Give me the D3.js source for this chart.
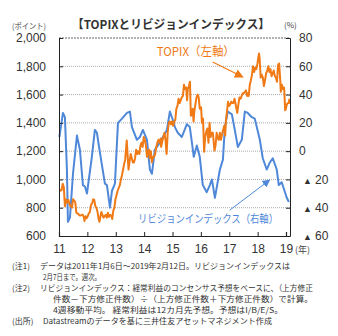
<!DOCTYPE html>
<html>
<head>
<meta charset="utf-8">
<script src="https://cdn.jsdelivr.net/npm/d3@7"></script>
<style>
  body { margin: 0; background: #fff; }
  svg { display: block; font-family: "Noto Sans CJK JP", "Liberation Sans", sans-serif; }
</style>
</head>
<body>
<script>
// Screen dimensions.
const WIDTH = 338;
const HEIGHT = 336;

// TOPIX (left axis), roughly every two weeks.
const topix = [
  ["2011-01-07", 930], ["2011-01-21", 920], ["2011-02-04", 925], ["2011-02-18", 970],
  ["2011-03-04", 945], ["2011-03-18", 810], ["2011-04-01", 860], ["2011-04-15", 835],
  ["2011-05-02", 855], ["2011-05-20", 820], ["2011-06-03", 810], ["2011-06-17", 800],
  ["2011-07-01", 860], ["2011-07-15", 850], ["2011-07-29", 840], ["2011-08-12", 765],
  ["2011-08-26", 760], ["2011-09-09", 755], ["2011-09-22", 745], ["2011-10-07", 745],
  ["2011-10-21", 750], ["2011-11-04", 750], ["2011-11-18", 730], ["2011-11-25", 706],
  ["2011-12-09", 740], ["2011-12-22", 725], ["2012-01-06", 740], ["2012-01-20", 760],
  ["2012-02-03", 770], ["2012-02-17", 820], ["2012-03-02", 830], ["2012-03-16", 860],
  ["2012-03-30", 855], ["2012-04-13", 810], ["2012-04-27", 800], ["2012-05-11", 770],
  ["2012-05-25", 720], ["2012-06-04", 700], ["2012-06-15", 730], ["2012-06-29", 770],
  ["2012-07-13", 750], ["2012-07-27", 730], ["2012-08-10", 740], ["2012-08-24", 750],
  ["2012-09-07", 730], ["2012-09-21", 765], ["2012-10-05", 735], ["2012-10-19", 750],
  ["2012-11-02", 745], ["2012-11-16", 720], ["2012-11-30", 780], ["2012-12-14", 800],
  ["2012-12-28", 860], ["2013-01-11", 890], ["2013-01-25", 920], ["2013-02-08", 940],
  ["2013-02-22", 960], ["2013-03-08", 1000], ["2013-03-22", 1030], ["2013-04-05", 1070],
  ["2013-04-19", 1110], ["2013-05-02", 1140], ["2013-05-22", 1276], ["2013-06-07", 1130],
  ["2013-06-14", 1070], ["2013-06-28", 1130], ["2013-07-12", 1180], ["2013-07-26", 1150],
  ["2013-08-09", 1120], ["2013-08-23", 1120], ["2013-09-06", 1150], ["2013-09-20", 1210],
  ["2013-10-04", 1180], ["2013-10-18", 1200], ["2013-11-01", 1180], ["2013-11-15", 1240],
  ["2013-11-29", 1260], ["2013-12-13", 1230], ["2013-12-27", 1300], ["2014-01-10", 1280],
  ["2014-01-24", 1240], ["2014-02-07", 1160], ["2014-02-21", 1200], ["2014-03-07", 1210],
  ["2014-03-14", 1150], ["2014-03-28", 1200], ["2014-04-11", 1121], ["2014-04-25", 1160],
  ["2014-05-09", 1160], ["2014-05-23", 1180], ["2014-06-06", 1230], ["2014-06-20", 1260],
  ["2014-07-04", 1280], ["2014-07-18", 1260], ["2014-08-01", 1290], ["2014-08-08", 1230],
  ["2014-08-22", 1270], ["2014-09-05", 1300], ["2014-09-19", 1330], ["2014-10-03", 1280],
  ["2014-10-17", 1180], ["2014-10-31", 1330], ["2014-11-14", 1400], ["2014-11-28", 1410],
  ["2014-12-12", 1390], ["2014-12-26", 1410], ["2015-01-09", 1380], ["2015-01-23", 1410],
  ["2015-02-06", 1420], ["2015-02-20", 1500], ["2015-03-06", 1520], ["2015-03-20", 1570],
  ["2015-04-03", 1540], ["2015-04-17", 1560], ["2015-05-01", 1580], ["2015-05-15", 1590],
  ["2015-05-29", 1670], ["2015-06-12", 1640], ["2015-06-26", 1650], ["2015-07-08", 1560],
  ["2015-07-17", 1640], ["2015-07-31", 1660], ["2015-08-14", 1690], ["2015-08-25", 1450],
  ["2015-09-04", 1460], ["2015-09-18", 1500], ["2015-09-29", 1410], ["2015-10-09", 1480],
  ["2015-10-23", 1530], ["2015-11-06", 1580], ["2015-11-20", 1600], ["2015-12-04", 1580],
  ["2015-12-18", 1500], ["2016-01-04", 1510], ["2016-01-15", 1400], ["2016-01-29", 1430],
  ["2016-02-12", 1196], ["2016-02-26", 1300], ["2016-03-11", 1340], ["2016-03-25", 1360],
  ["2016-04-08", 1260], ["2016-04-22", 1400], ["2016-05-06", 1300], ["2016-05-20", 1330],
  ["2016-06-03", 1330], ["2016-06-17", 1250], ["2016-06-24", 1204], ["2016-07-08", 1240],
  ["2016-07-22", 1330], ["2016-08-05", 1290], ["2016-08-19", 1280], ["2016-09-02", 1330],
  ["2016-09-16", 1280], ["2016-09-30", 1320], ["2016-10-14", 1350], ["2016-10-28", 1380],
  ["2016-11-09", 1310], ["2016-11-18", 1410], ["2016-12-02", 1480], ["2016-12-16", 1550],
  ["2016-12-30", 1520], ["2017-01-13", 1530], ["2017-01-27", 1550], ["2017-02-10", 1540],
  ["2017-02-24", 1540], ["2017-03-10", 1570], ["2017-03-24", 1530], ["2017-04-07", 1490],
  ["2017-04-14", 1470], ["2017-04-28", 1530], ["2017-05-12", 1580], ["2017-05-26", 1570],
  ["2017-06-09", 1590], ["2017-06-23", 1610], ["2017-07-07", 1610], ["2017-07-21", 1620],
  ["2017-08-04", 1630], ["2017-08-18", 1590], ["2017-09-01", 1610], ["2017-09-08", 1590],
  ["2017-09-22", 1670], ["2017-10-06", 1700], ["2017-10-20", 1740], ["2017-11-02", 1800],
  ["2017-11-10", 1790], ["2017-11-17", 1760], ["2017-12-01", 1790], ["2017-12-15", 1780],
  ["2017-12-29", 1817], ["2018-01-12", 1870], ["2018-01-19", 1890], ["2018-01-26", 1860],
  ["2018-02-09", 1720], ["2018-02-23", 1740], ["2018-03-09", 1720], ["2018-03-23", 1660],
  ["2018-04-06", 1700], ["2018-04-20", 1750], ["2018-05-04", 1770], ["2018-05-18", 1800],
  ["2018-06-01", 1760], ["2018-06-15", 1780], ["2018-06-29", 1730], ["2018-07-13", 1750],
  ["2018-07-27", 1770], ["2018-08-10", 1730], ["2018-08-24", 1720], ["2018-09-07", 1690],
  ["2018-09-21", 1810], ["2018-10-05", 1820], ["2018-10-19", 1700], ["2018-10-26", 1620],
  ["2018-11-09", 1670], ["2018-11-22", 1640], ["2018-12-07", 1650], ["2018-12-14", 1580],
  ["2018-12-21", 1490], ["2018-12-28", 1494], ["2019-01-11", 1530], ["2019-01-25", 1540],
  ["2019-02-08", 1540], ["2019-02-12", 1570]
];

// Revision index, 4-week moving average (right axis, %).
const revision = [
  ["2011-01-06", 10], ["2011-02-21", 27], ["2011-03-18", 24], ["2011-04-13", -13],
  ["2011-04-26", -50], ["2011-05-22", -47], ["2011-06-30", -16], ["2011-08-20", 11],
  ["2011-09-27", 1], ["2011-11-05", -24], ["2011-12-01", -25], ["2011-12-27", -30],
  ["2012-01-08", -25], ["2012-02-28", -4], ["2012-04-07", 15], ["2012-05-03", 13],
  ["2012-06-11", -1], ["2012-08-14", -23], ["2012-09-09", -24], ["2012-10-18", -40],
  ["2012-11-13", -28], ["2012-12-21", -23], ["2013-01-29", 20], ["2013-03-22", 23],
  ["2013-05-25", 27], ["2013-07-02", 28], ["2013-07-28", 17], ["2013-09-30", 8],
  ["2013-11-07", 10], ["2013-12-16", 15], ["2014-02-06", 8], ["2014-03-16", -13],
  ["2014-04-11", -16], ["2014-05-19", 1], ["2014-07-23", 6], ["2014-08-30", 10],
  ["2014-10-21", 15], ["2014-11-28", 28], ["2015-01-06", 22], ["2015-02-01", 17],
  ["2015-03-10", 13], ["2015-05-01", 10], ["2015-07-04", 19], ["2015-08-12", 17],
  ["2015-09-20", 1], ["2015-10-02", -4], ["2015-11-10", 4], ["2015-12-18", -4],
  ["2016-01-26", -24], ["2016-03-17", -29], ["2016-04-26", -24], ["2016-05-22", -20],
  ["2016-06-30", -33], ["2016-09-02", -13], ["2016-10-11", -6], ["2016-11-05", 17],
  ["2016-12-13", 28], ["2017-02-03", 26], ["2017-03-13", 15], ["2017-04-21", 3],
  ["2017-06-11", 8], ["2017-07-20", 28], ["2017-08-27", 27], ["2017-10-18", 24],
  ["2017-11-25", 23], ["2018-01-29", 8], ["2018-03-08", -5], ["2018-04-28", -13],
  ["2018-06-07", -8], ["2018-07-15", -5], ["2018-09-04", -13], ["2018-09-30", -24],
  ["2018-11-07", -22], ["2019-01-11", -33], ["2019-02-07", -36]
];

// Axis ticks.
const leftTicks = [600, 800, 1000, 1200, 1400, 1600, 1800, 2000];
const rightTicks = [-60, -40, -20, 0, 20, 40, 60, 80];
const yearTicks = ["2011", "2012", "2013", "2014", "2015", "2016", "2017", "2018", "2019"];

// Footnotes: [label, text, x of text, width of text].
const notes = [
  ["(注1)", "データは2011年1月6日～2019年2月12日。リビジョンインデックスは", 40, 250],
  ["", "2月7日まで。週次。", 43, 58],
  ["(注2)", "リビジョンインデックス：経常利益のコンセンサス予想をベースに、（上方修正", 40, 273],
  ["", "件数－下方修正件数）÷（上方修正件数＋下方修正件数）で計算。", 53, 260],
  ["", "4週移動平均。 経常利益は12カ月先予想。予想はI/B/E/S。", 53, 230],
  ["(出所)", "Datastreamのデータを基に三井住友アセットマネジメント作成", 43, 229]
];

const ORANGE = "#EF7A16";
const BLUE = "#4F88D9";
const parse = d3.timeParse("%Y-%m-%d");

const svg = d3.select("body").append("svg").attr("width", WIDTH).attr("height", HEIGHT);
svg.append("rect").attr("width", WIDTH).attr("height", HEIGHT).attr("fill", "#fff");

// Scales
const x = d3.scaleTime().domain([new Date(2011, 0, 1), new Date(2019, 0, 1)]).range([59, 286]);
const yL = d3.scaleLinear().domain([600, 2000]).range([236, 38]);
const yR = d3.scaleLinear().domain([-60, 80]).range([236, 38]);

// Title
svg.append("text").attr("x", 72).attr("y", 29)
  .attr("font-size", 12).attr("font-weight", "bold").attr("fill", "#333")
  .attr("textLength", 198).attr("lengthAdjust", "spacingAndGlyphs")
  .text("【TOPIXとリビジョンインデックス】");
svg.append("text").attr("x", 12).attr("y", 29).attr("font-size", 8).attr("fill", "#444")
  .attr("textLength", 34).attr("lengthAdjust", "spacingAndGlyphs").text("(ポイント)");
svg.append("text").attr("x", 284).attr("y", 28).attr("font-size", 8).attr("fill", "#444").text("(%)");

// Gridlines
svg.append("g").selectAll("line").data(leftTicks.slice(1, -1)).enter().append("line")
  .attr("x1", 59).attr("x2", 290)
  .attr("y1", d => yL(d)).attr("y2", d => yL(d))
  .attr("stroke", "#aaa").attr("stroke-dasharray", "1,1");
svg.append("line").attr("x1", 59).attr("x2", 290).attr("y1", yL(2000)).attr("y2", yL(2000))
  .attr("stroke", "#666").attr("stroke-dasharray", "2,1");

// Lines
const line = (yScale) => d3.line().x(d => x(parse(d[0]))).y(d => yScale(d[1]));

svg.append("path").datum(revision)
  .attr("d", line(yR)).attr("fill", "none")
  .attr("stroke", BLUE).attr("stroke-width", 2).attr("stroke-linejoin", "round");

svg.append("path").datum(topix)
  .attr("d", line(yL)).attr("fill", "none")
  .attr("stroke", ORANGE).attr("stroke-width", 2).attr("stroke-linejoin", "round");

// Axes
const tickFont = (g) => g.selectAll("text")
  .attr("font-family", "'Liberation Sans', Arial, sans-serif")
  .attr("font-size", 12).attr("fill", "#333");

svg.append("g").attr("transform", "translate(59,0)")
  .call(d3.axisLeft(yL).tickValues(leftTicks).tickSize(-4).tickPadding(13)
    .tickFormat(d3.format(",")))
  .call(g => g.select(".domain").attr("stroke", "#222"))
  .call(g => g.selectAll(".tick line").attr("stroke", "#222"))
  .call(tickFont);

const rightAxis = svg.append("g").attr("transform", "translate(290,0)")
  .call(d3.axisRight(yR).tickValues(rightTicks).tickSize(-4).tickPadding(9)
    .tickFormat(d => d < 0 ? "" : d))
  .call(g => g.select(".domain").attr("stroke", "#222"))
  .call(g => g.selectAll(".tick line").attr("stroke", "#222"))
  .call(tickFont);

rightAxis.selectAll(".tick").filter(d => d < 0).select("text")
  .call(t => t.append("tspan").attr("x", 13).attr("font-size", 9).text("▲"))
  .call(t => t.append("tspan").attr("x", 25).text(d => Math.abs(d)));

svg.append("g").attr("transform", "translate(0,236)")
  .call(d3.axisBottom(x).tickValues(yearTicks.map(y => new Date(+y, 0, 1)))
    .tickSize(-4).tickPadding(8).tickFormat(d3.timeFormat("%y")))
  .call(g => g.select(".domain").attr("stroke", "#222").attr("stroke-width", 1.2))
  .call(g => g.selectAll(".tick line").attr("stroke", "#222"))
  .call(tickFont);

svg.append("text").attr("x", 295).attr("y", 253).attr("font-size", 9).attr("fill", "#444").text("(年)");

// Annotations
const defs = svg.append("defs");
[["headO", ORANGE, 7], ["headB", BLUE, 6]].forEach(([id, c, s]) => {
  defs.append("marker").attr("id", id).attr("viewBox", "0 0 10 10")
    .attr("refX", 9).attr("refY", 5).attr("markerUnits", "userSpaceOnUse")
    .attr("markerWidth", s + 2).attr("markerHeight", s + 2).attr("orient", "auto")
    .append("path").attr("d", "M0,0L10,5L0,10Z").attr("fill", c);
});

svg.append("text").attr("x", x(parse("2014-06-13"))).attr("y", yL(1873))
  .attr("font-size", 12).attr("fill", ORANGE)
  .attr("textLength", 78).attr("lengthAdjust", "spacingAndGlyphs")
  .text("TOPIX（左軸）");
svg.append("line")
  .attr("x1", x(parse("2016-06-01"))).attr("y1", yL(1830))
  .attr("x2", x(parse("2017-06-25"))).attr("y2", yL(1724))
  .attr("stroke", ORANGE).attr("stroke-width", 1.2).attr("marker-end", "url(#headO)");

svg.append("text").attr("x", x(parse("2013-10-15"))).attr("y", yR(-50.5))
  .attr("font-size", 11).attr("fill", BLUE)
  .attr("textLength", 140).attr("lengthAdjust", "spacingAndGlyphs")
  .text("リビジョンインデックス（右軸）");
svg.append("line")
  .attr("x1", x(parse("2017-01-08"))).attr("y1", yR(-41.7))
  .attr("x2", x(parse("2018-06-05"))).attr("y2", yR(-20.4))
  .attr("stroke", BLUE).attr("stroke-width", 1).attr("marker-end", "url(#headB)");

// Footnotes
const foot = svg.append("g").attr("font-size", 8).attr("fill", "#333");
notes.forEach(([label, text, tx, w], i) => {
  const yy = 269 + i * 11;
  if (label) foot.append("text").attr("x", 12).attr("y", yy).text(label);
  foot.append("text").attr("x", tx).attr("y", yy)
    .attr("textLength", w).attr("lengthAdjust", "spacingAndGlyphs").text(text);
});
</script>
</body>
</html>
